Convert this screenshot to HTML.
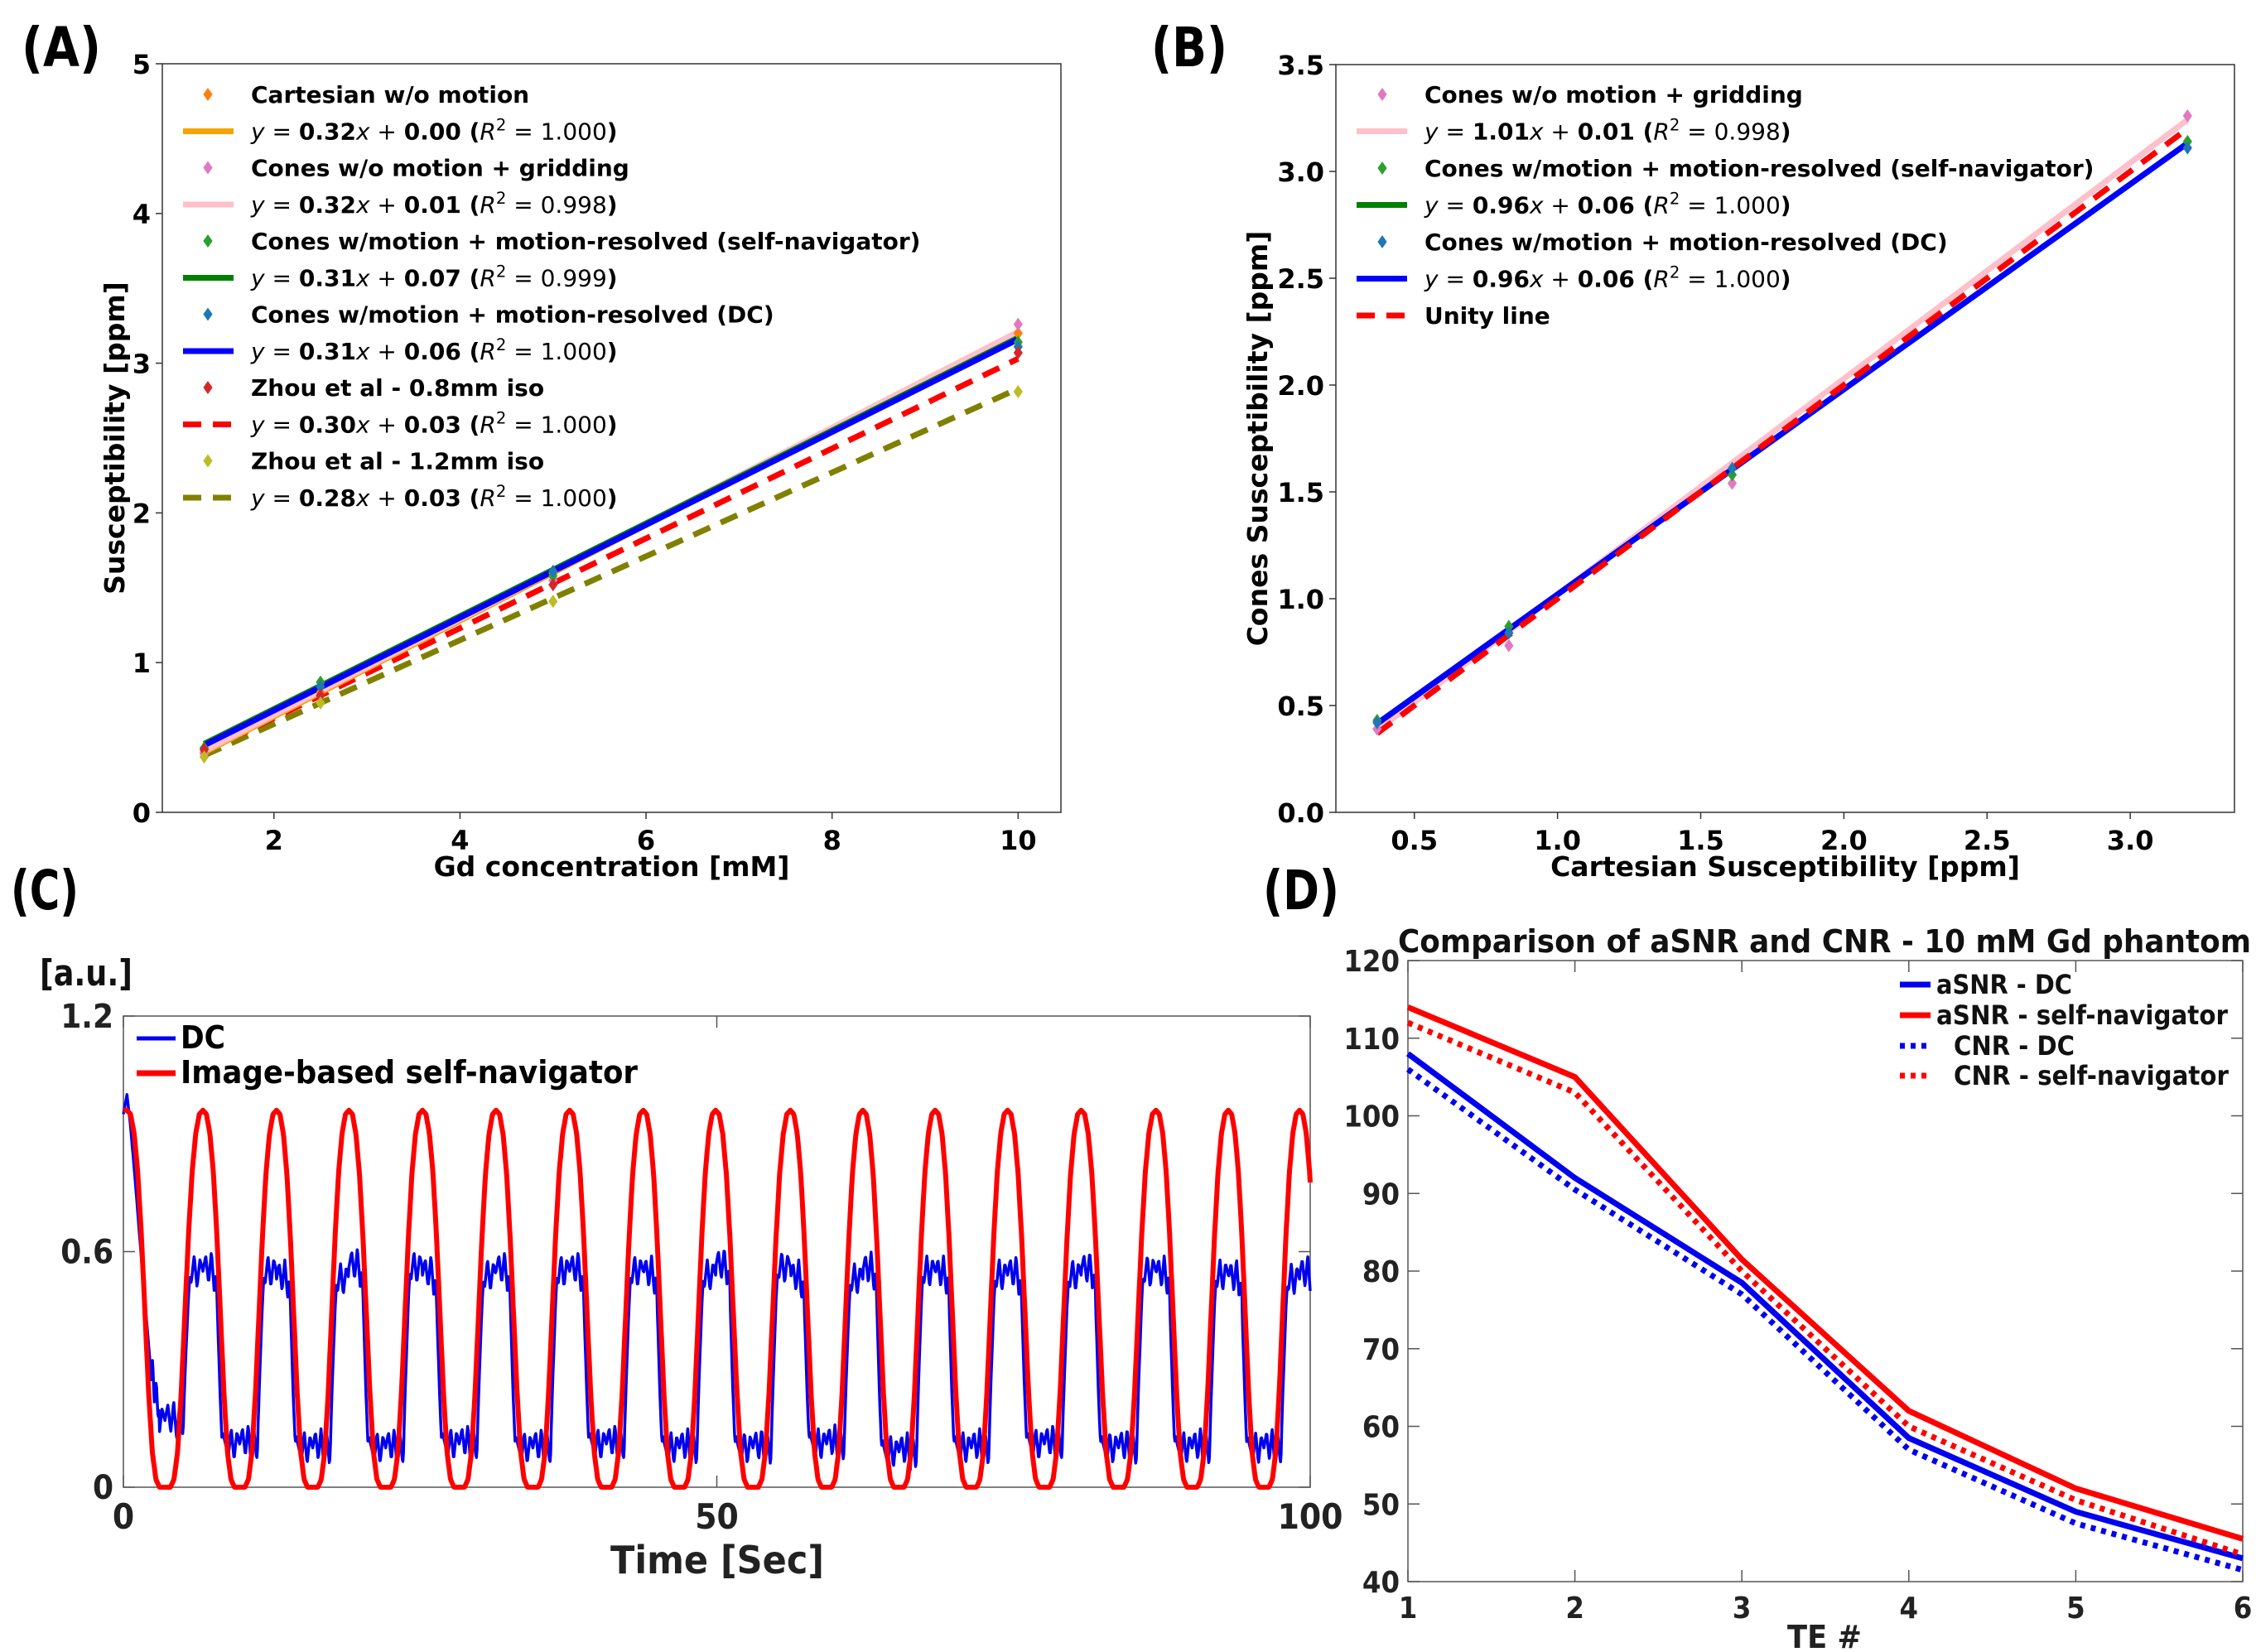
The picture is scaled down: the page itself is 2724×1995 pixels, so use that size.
<!DOCTYPE html>
<html><head><meta charset="utf-8">
<style>
html,body{margin:0;padding:0;background:#fff;}
svg{display:block;}
.mpl{font-family:"DejaVu Sans","Liberation Sans",sans-serif;font-weight:bold;}
.mat{font-family:"DejaVu Sans Condensed","Liberation Sans Narrow","Liberation Sans",sans-serif;font-weight:bold;font-stretch:condensed;}
</style></head>
<body>
<svg id="fig" width="2724" height="1995" viewBox="0 0 2724 1995" xmlns="http://www.w3.org/2000/svg">
<rect width="2724" height="1995" fill="#fff"/>
<text class="mat" x="26" y="80" font-size="66" textLength="96" lengthAdjust="spacingAndGlyphs">(A)</text>
<text class="mat" x="1390" y="80" font-size="66" textLength="92" lengthAdjust="spacingAndGlyphs">(B)</text>
<text class="mat" x="13" y="1098" font-size="66" textLength="82" lengthAdjust="spacingAndGlyphs">(C)</text>
<text class="mat" x="1525" y="1098" font-size="66" textLength="92" lengthAdjust="spacingAndGlyphs">(D)</text>
<g id="pa"></g>
<g id="pb"></g>
<g id="pc"></g>
<g id="pd"></g>
</svg>
<script>
// ===== Panel A data =====
const aConc = [1.25, 2.5, 5, 10];
const aCart = [0.40, 0.80, 1.60, 3.20];
const aGrid = [0.39, 0.78, 1.55, 3.26];
const aSelf = [0.43, 0.87, 1.58, 3.14];
const aDC = [0.42, 0.84, 1.61, 3.11];
const aZ08 = [0.42, 0.78, 1.52, 3.07];
const aZ12 = [0.37, 0.73, 1.41, 2.81];
const aSlopes = [0.32, 0.32, 0.31, 0.31, 0.30, 0.28];
const aIntercepts = [0.00, 0.01, 0.07, 0.06, 0.03, 0.03];
const aR2 = ["1.000", "0.998", "0.999", "1.000", "1.000", "1.000"];
const aNames = ["Cartesian w/o motion", "Cones w/o motion + gridding", "Cones w/motion + motion-resolved (self-navigator)", "Cones w/motion + motion-resolved (DC)", "Zhou et al - 0.8mm iso", "Zhou et al - 1.2mm iso"];
const aXTicks = [2, 4, 6, 8, 10];
const aYTicks = [0, 1, 2, 3, 4, 5];
// ===== Panel B data =====
const bCart = [0.37, 0.83, 1.61, 3.20];
const bGrid = [0.39, 0.78, 1.54, 3.26];
const bSelf = [0.43, 0.87, 1.58, 3.14];
const bDC = [0.42, 0.84, 1.61, 3.11];
const bSlopes = [1.01, 0.96, 0.96];
const bIntercepts = [0.01, 0.06, 0.06];
const bR2 = ["0.998", "1.000", "1.000"];
const bNames = ["Cones w/o motion + gridding", "Cones w/motion + motion-resolved (self-navigator)", "Cones w/motion + motion-resolved (DC)"];
const bXTicks = [0.5, 1.0, 1.5, 2.0, 2.5, 3.0];
const bYTicks = [0.0, 0.5, 1.0, 1.5, 2.0, 2.5, 3.0, 3.5];
// ===== Panel C data =====
const cPeakTimes = [0.3, 6.7, 12.9, 19.0, 25.2, 31.4, 37.6, 43.8, 49.9, 56.2, 62.3, 68.4, 74.5, 80.7, 87.0, 93.1, 99.1];
const cRedShape = [0.96, 0.95, 0.9, 0.8, 0.64, 0.44, 0.24, 0.09, 0.02, 0, 0, 0, 0, 0.02, 0.09, 0.24, 0.44, 0.64, 0.8, 0.9, 0.95, 0.96];
const cDcHigh = [0.55, 0.55, 0.53, 0.56, 0.54, 0.55, 0.55, 0.54, 0.56, 0.53, 0.55, 0.54, 0.54, 0.55, 0.54, 0.53, 0.54];
const cDcLow = [0.17, 0.11, 0.10, 0.10, 0.11, 0.10, 0.11, 0.10, 0.10, 0.11, 0.09, 0.10, 0.11, 0.10, 0.10, 0.10, 0.10];
const cDcWiggle = [0, 0.04, -0.03, 0.05, -0.05, 0.04, -0.04, 0.03, 0, -0.03, 0.04, -0.04, 0.03, 0];
const cDcStartT = [0, 0.3, 0.6, 1.0, 1.6, 2.3, 3.0];
const cDcStartV = [0.95, 1.0, 0.92, 0.78, 0.55, 0.30, 0.20];
const cXTicks = [0, 50, 100];
const cYTicks = [0, 0.6, 1.2];
// ===== Panel D data =====
const dTE = [1, 2, 3, 4, 5, 6];
const dSnrDC = [108, 92, 78.5, 58.5, 49, 43];
const dSnrSelf = [114, 105, 81.5, 62, 52, 45.5];
const dCnrDC = [106, 90.5, 77, 57, 47.5, 41.5];
const dCnrSelf = [112, 103, 80, 60, 50.5, 43.5];
const dYTicks = [40, 50, 60, 70, 80, 90, 100, 110, 120];

const NS = "http://www.w3.org/2000/svg";
function mk(parent, tag, attrs, text) {
  const e = document.createElementNS(NS, tag);
  for (const k in attrs) e.setAttribute(k, attrs[k]);
  if (text !== undefined) e.textContent = text;
  parent.appendChild(e);
  return e;
}
function lin(d0, d1, r0, r1) { return v => r0 + (v - d0) / (d1 - d0) * (r1 - r0); }
function pathFrom(xs, ys, sx, sy) {
  return xs.map((x, i) => (i ? "L" : "M") + sx(x).toFixed(1) + "," + sy(ys[i]).toFixed(1)).join("");
}
function diamond(g, cx, cy, r, fill) {
  return mk(g, "path", {d: `M${cx},${cy - r}L${cx + r * 0.7},${cy}L${cx},${cy + r}L${cx - r * 0.7},${cy}Z`, fill: fill});
}
function eqText(g, x, y, slope, icpt, r2, fs) {
  const t = mk(g, "text", {x: x, y: y, "font-size": fs, class: "mpl"});
  const sp = (txt, w, st) => mk(t, "tspan", {"font-weight": w, "font-style": st || "normal"}, txt);
  sp("y", "normal", "italic"); sp(" = ", "normal"); sp(slope.toFixed(2), "bold"); sp("x", "normal", "italic");
  sp(" + ", "normal"); sp(icpt.toFixed(2) + " (", "bold"); sp("R", "normal", "italic");
  mk(t, "tspan", {"font-weight": "normal", "font-size": fs * 0.7, dy: -fs * 0.4}, "2");
  mk(t, "tspan", {"font-weight": "normal", dy: fs * 0.4}, " = " + r2);
  sp(")", "bold");
  return t;
}

// ================= Panel A =================
(function () {
  const g = document.getElementById("pa");
  const L = 196, R = 1281, T = 77, B = 981;
  const sx = lin(0.8, 10.46, L, R), sy = lin(0, 5, B, T);
  const cols = ["#f5a300", "#ffc0cb", "#008000", "#0000ff", "#ff0000", "#808000"];
  const mcols = ["#ff7f0e", "#e377c2", "#2ca02c", "#1f77b4", "#d62728", "#bcbd22"];
  const pts = [aCart, aGrid, aSelf, aDC, aZ08, aZ12];
  const dashes = [null, null, null, null, "22,14", "22,14"];
  const order = [5, 4, 0, 1, 2, 3];
  order.forEach(i => {
    const x0 = aConc[0], x1 = aConc[aConc.length - 1];
    const l = mk(g, "line", {x1: sx(x0), y1: sy(aSlopes[i] * x0 + aIntercepts[i]), x2: sx(x1), y2: sy(aSlopes[i] * x1 + aIntercepts[i]), stroke: cols[i], "stroke-width": 7});
    if (dashes[i]) l.setAttribute("stroke-dasharray", dashes[i]);
    
    
  });
  pts.forEach((arr, i) => {
    arr.forEach((v, j) => {
      const d = diamond(g, sx(aConc[j]), sy(v), 8, mcols[i]);
      
      
    });
  });
  mk(g, "rect", {x: L, y: T, width: R - L, height: B - T, fill: "none", stroke: "#333", "stroke-width": 1.5});
  aXTicks.forEach(v => {
    mk(g, "line", {x1: sx(v), x2: sx(v), y1: B, y2: B + 8, stroke: "#333", "stroke-width": 1.5});
    const t = mk(g, "text", {x: sx(v), y: B + 45, "font-size": 32, "text-anchor": "middle", class: "mpl"}, String(v));
    
    
  });
  aYTicks.forEach(v => {
    mk(g, "line", {x1: L - 8, x2: L, y1: sy(v), y2: sy(v), stroke: "#333", "stroke-width": 1.5});
    const t = mk(g, "text", {x: L - 14, y: sy(v) + 12, "font-size": 32, "text-anchor": "end", class: "mpl"}, String(v));
    
    
  });
  const xt = mk(g, "text", {x: (L + R) / 2, y: 1058, "font-size": 33, "text-anchor": "middle", class: "mpl"}, "Gd concentration [mM]");
  
  
  const yt = mk(g, "text", {x: 0, y: 0, "font-size": 33, "text-anchor": "middle", class: "mpl", transform: `translate(150,${(T + B) / 2}) rotate(-90)`}, "Susceptibility [ppm]");
  
  
  const lg = mk(g, "g", {});
  
  
  for (let i = 0; i < 6; i++) {
    const y1 = 124 + i * 88.5, y2 = y1 + 44.5;
    diamond(lg, 251, y1 - 10, 8, mcols[i]);
    const n = mk(lg, "text", {x: 303, y: y1, "font-size": 28, class: "mpl"}, aNames[i]);
    
    
    const ll = mk(lg, "line", {x1: 221, x2: 282, y1: y2 - 10, y2: y2 - 10, stroke: cols[i], "stroke-width": 7});
    if (dashes[i]) ll.setAttribute("stroke-dasharray", "22,14");
    eqText(lg, 303, y2, aSlopes[i], aIntercepts[i], aR2[i], 28);
  }
})();

// ================= Panel B =================
(function () {
  const g = document.getElementById("pb");
  const L = 1613, R = 2698, T = 78, B = 981;
  const sx = lin(0.226, 3.364, L, R), sy = lin(0, 3.5, B, T);
  const cols = ["#ffc0cb", "#008000", "#0000ff"];
  const mcols = ["#e377c2", "#2ca02c", "#1f77b4"];
  const x0 = bCart[0], x1 = bCart[bCart.length - 1];
  for (let i = 0; i < 3; i++) {
    const l = mk(g, "line", {x1: sx(x0), y1: sy(bSlopes[i] * x0 + bIntercepts[i]), x2: sx(x1), y2: sy(bSlopes[i] * x1 + bIntercepts[i]), stroke: cols[i], "stroke-width": 7});
    
    
  }
  const u = mk(g, "line", {x1: sx(x0), y1: sy(x0), x2: sx(x1), y2: sy(x1), stroke: "#ff0000", "stroke-width": 7, "stroke-dasharray": "22,14"});
  
  
  [bGrid, bSelf, bDC].forEach((arr, i) => arr.forEach((v, j) => {
    const d = diamond(g, sx(bCart[j]), sy(v), 8, mcols[i]);
    
    
  }));
  mk(g, "rect", {x: L, y: T, width: R - L, height: B - T, fill: "none", stroke: "#333", "stroke-width": 1.5});
  bXTicks.forEach(v => {
    mk(g, "line", {x1: sx(v), x2: sx(v), y1: B, y2: B + 8, stroke: "#333", "stroke-width": 1.5});
    const t = mk(g, "text", {x: sx(v), y: B + 45, "font-size": 32, "text-anchor": "middle", class: "mpl"}, v.toFixed(1));
    
    
  });
  bYTicks.forEach(v => {
    mk(g, "line", {x1: L - 8, x2: L, y1: sy(v), y2: sy(v), stroke: "#333", "stroke-width": 1.5});
    const t = mk(g, "text", {x: L - 14, y: sy(v) + 12, "font-size": 32, "text-anchor": "end", class: "mpl"}, v.toFixed(1));
    
    
  });
  const xt = mk(g, "text", {x: (L + R) / 2, y: 1058, "font-size": 33, "text-anchor": "middle", class: "mpl"}, "Cartesian Susceptibility [ppm]");
  
  
  const yt = mk(g, "text", {x: 0, y: 0, "font-size": 33, "text-anchor": "middle", class: "mpl", transform: `translate(1530,${(T + B) / 2}) rotate(-90)`}, "Cones Susceptibility [ppm]");
  
  
  const lg = mk(g, "g", {});
  
  
  for (let i = 0; i < 3; i++) {
    const y1 = 124 + i * 89, y2 = y1 + 44.5;
    diamond(lg, 1669, y1 - 10, 8, mcols[i]);
    const n = mk(lg, "text", {x: 1720, y: y1, "font-size": 28, class: "mpl"}, bNames[i]);
    
    
    mk(lg, "line", {x1: 1638, x2: 1699, y1: y2 - 10, y2: y2 - 10, stroke: cols[i], "stroke-width": 7});
    eqText(lg, 1720, y2, bSlopes[i], bIntercepts[i], bR2[i], 28);
  }
  mk(lg, "line", {x1: 1638, x2: 1699, y1: 381, y2: 381, stroke: "#ff0000", "stroke-width": 7, "stroke-dasharray": "22,14"});
  const un = mk(lg, "text", {x: 1720, y: 391, "font-size": 28, class: "mpl"}, "Unity line");
  
  
})();

// ================= Panel C =================
(function () {
  const g = document.getElementById("pc");
  const L = 149, R = 1582, T = 1227, B = 1796;
  const sx = lin(0, 100, L, R), sy = lin(0, 1.2, B, T);
  function cycleAt(t) {
    let k = 0;
    if (t < cPeakTimes[0]) return {k: 0, ph: 0};
    while (k < cPeakTimes.length - 1 && t >= cPeakTimes[k + 1]) k++;
    let P = (k < cPeakTimes.length - 1) ? cPeakTimes[k + 1] - cPeakTimes[k] : cPeakTimes[k] - cPeakTimes[k - 1];
    return {k: k, ph: (t - cPeakTimes[k]) / P};
  }
  function interpArr(arr, ph) {
    const f = Math.min(Math.max(ph, 0), 1) * (arr.length - 1), i = Math.floor(f);
    if (i >= arr.length - 1) return arr[arr.length - 1];
    return arr[i] + (arr[i + 1] - arr[i]) * (f - i);
  }
  const ts = [], red = [], dc = [];
  for (let t = 0; t <= 100.0001; t += 0.05) {
    ts.push(t);
    const c = cycleAt(t);
    const r = interpArr(cRedShape, c.ph);
    red.push(r);
    let d;
    if (t <= cDcStartT[cDcStartT.length - 1]) {
      let i = 0; while (i < cDcStartT.length - 2 && t > cDcStartT[i + 1]) i++;
      d = cDcStartV[i] + (cDcStartV[i + 1] - cDcStartV[i]) * (t - cDcStartT[i]) / (cDcStartT[i + 1] - cDcStartT[i]);
      if (t > 2.2) d += interpArr(cDcWiggle, (t * 0.5) % 1);
    } else {
      const s = Math.min(1, Math.max(0, (r - 0.35) / 0.35));
      const hi = cDcHigh[c.k], lo = cDcLow[Math.min(c.k, cDcLow.length - 1)];
      const sub = (c.ph * 2) % 1;
      d = lo + (hi - lo) * s + interpArr(cDcWiggle, sub) * (s > 0.8 || s < 0.1 ? 1 : 0.3);
    }
    dc.push(d);
  }
  mk(g, "rect", {x: L, y: T, width: R - L, height: B - T, fill: "none", stroke: "#555", "stroke-width": 1.5});
  const dcp = mk(g, "path", {d: pathFrom(ts, dc, sx, sy), fill: "none", stroke: "#0000ee", "stroke-width": 3.5, "stroke-linejoin": "round"});
  
  
  const rp = mk(g, "path", {d: pathFrom(ts, red, sx, sy), fill: "none", stroke: "#ff0000", "stroke-width": 6, "stroke-linejoin": "round"});
  
  
  cXTicks.forEach(v => {
    mk(g, "line", {x1: sx(v), x2: sx(v), y1: B, y2: B - 14, stroke: "#555", "stroke-width": 1.5});
    mk(g, "line", {x1: sx(v), x2: sx(v), y1: T, y2: T + 14, stroke: "#555", "stroke-width": 1.5});
    const t = mk(g, "text", {x: sx(v), y: B + 50, "font-size": 42, "text-anchor": "middle", class: "mat", fill: "#222"}, String(v));
    
    
  });
  cYTicks.forEach(v => {
    mk(g, "line", {x1: L, x2: L + 14, y1: sy(v), y2: sy(v), stroke: "#555", "stroke-width": 1.5});
    mk(g, "line", {x1: R, x2: R - 14, y1: sy(v), y2: sy(v), stroke: "#555", "stroke-width": 1.5});
    const t = mk(g, "text", {x: L - 12, y: sy(v) + 14, "font-size": 40, "text-anchor": "end", class: "mat", fill: "#222"}, String(v));
    
    
  });
  const xt = mk(g, "text", {x: 866, y: 1900, "font-size": 46, "text-anchor": "middle", class: "mat", fill: "#222", textLength: 258, lengthAdjust: "spacingAndGlyphs"}, "Time [Sec]");
  
  
  const au = mk(g, "text", {x: 48, y: 1190, "font-size": 44, class: "mat", fill: "#111", textLength: 112, lengthAdjust: "spacingAndGlyphs"}, "[a.u.]");
  
  
  const lg = mk(g, "g", {});
  
  
  mk(lg, "line", {x1: 165, x2: 212, y1: 1254, y2: 1254, stroke: "#0000ee", "stroke-width": 5});
  const t1 = mk(lg, "text", {x: 218, y: 1266, "font-size": 38, class: "mat", fill: "#000", textLength: 54, lengthAdjust: "spacingAndGlyphs"}, "DC");
  
  
  mk(lg, "line", {x1: 165, x2: 212, y1: 1296, y2: 1296, stroke: "#ff0000", "stroke-width": 7});
  const t2 = mk(lg, "text", {x: 218, y: 1308, "font-size": 38, class: "mat", fill: "#000", textLength: 552, lengthAdjust: "spacingAndGlyphs"}, "Image-based self-navigator");
  
  
})();

// ================= Panel D =================
(function () {
  const g = document.getElementById("pd");
  const L = 1700, R = 2708, T = 1160, B = 1910;
  const sx = lin(1, 6, L, R), sy = lin(40, 120, B, T);
  mk(g, "rect", {x: L, y: T, width: R - L, height: B - T, fill: "none", stroke: "#555", "stroke-width": 1.5});
  dTE.forEach(v => {
    mk(g, "line", {x1: sx(v), x2: sx(v), y1: B, y2: B - 14, stroke: "#555", "stroke-width": 1.5});
    mk(g, "line", {x1: sx(v), x2: sx(v), y1: T, y2: T + 14, stroke: "#555", "stroke-width": 1.5});
    const t = mk(g, "text", {x: sx(v), y: B + 44, "font-size": 36, "text-anchor": "middle", class: "mat", fill: "#222"}, String(v));
    
    
  });
  dYTicks.forEach(v => {
    mk(g, "line", {x1: L, x2: L + 14, y1: sy(v), y2: sy(v), stroke: "#555", "stroke-width": 1.5});
    mk(g, "line", {x1: R, x2: R - 14, y1: sy(v), y2: sy(v), stroke: "#555", "stroke-width": 1.5});
    const t = mk(g, "text", {x: L - 10, y: sy(v) + 13, "font-size": 36, "text-anchor": "end", class: "mat", fill: "#222"}, String(v));
    
    
  });
  const series = [[dSnrDC, "#0000ee", null], [dSnrSelf, "#ff0000", null], [dCnrDC, "#0000ee", "6,7"], [dCnrSelf, "#ff0000", "6,7"]];
  const snames = ["asnr-dc-line", "asnr-self-navigator-line", "cnr-dc-line", "cnr-self-navigator-line"];
  series.forEach((s, i) => {
    const p = mk(g, "path", {d: pathFrom(dTE, s[0], sx, sy), fill: "none", stroke: s[1], "stroke-width": 7});
    if (s[2]) p.setAttribute("stroke-dasharray", s[2]);
    
    
  });
  const ti = mk(g, "text", {x: 2203, y: 1150, "font-size": 38, "text-anchor": "middle", class: "mat", fill: "#111", textLength: 1030, lengthAdjust: "spacingAndGlyphs"}, "Comparison of aSNR and CNR - 10 mM Gd phantom");
  
  
  const xt = mk(g, "text", {x: 2203, y: 1990, "font-size": 38, "text-anchor": "middle", class: "mat", fill: "#222", textLength: 90, lengthAdjust: "spacingAndGlyphs"}, "TE #");
  
  
  const lg = mk(g, "g", {});
  
  
  const ln = ["aSNR - DC", "aSNR - self-navigator", "CNR - DC", "CNR - self-navigator"];
  const lx = [2338, 2338, 2359, 2359];
  const lw = [164, 352, 146, 332];
  const ly = [1200, 1237, 1274, 1310];
  series.forEach((s, i) => {
    const l = mk(lg, "line", {x1: 2294, x2: 2331, y1: ly[i] - 11, y2: ly[i] - 11, stroke: s[1], "stroke-width": 7});
    if (s[2]) l.setAttribute("stroke-dasharray", s[2]);
    const t = mk(lg, "text", {x: lx[i], y: ly[i], "font-size": 32, class: "mat", fill: "#111", textLength: lw[i], lengthAdjust: "spacingAndGlyphs"}, ln[i]);
    
    
  });
})();
</script>
</body></html>
